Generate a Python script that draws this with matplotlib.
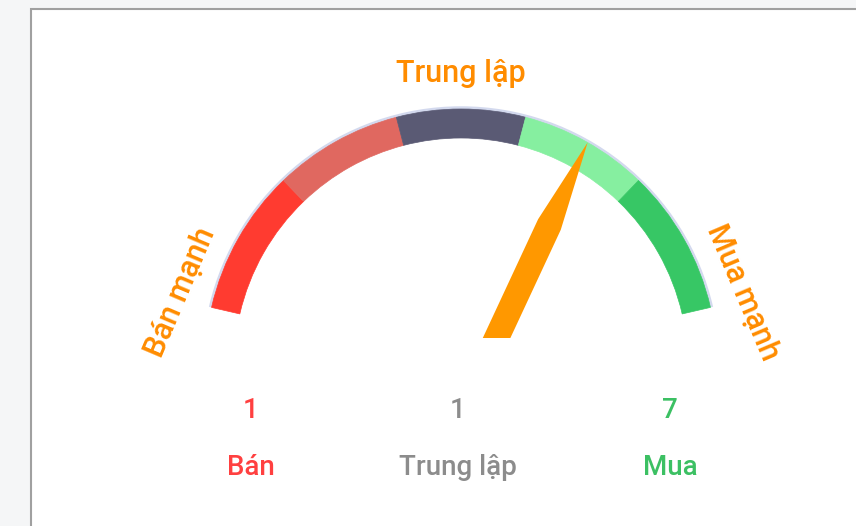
import numpy as np
import matplotlib
matplotlib.use("Agg")
import matplotlib.pyplot as plt
from matplotlib.patches import Wedge, Arc, Rectangle, Polygon

plt.rcParams['font.family'] = ['Roboto', 'DejaVu Sans']

# data
summary = "Trung lập"
end_labels = ["Bán mạnh", "Mua mạnh"]
count_labels = ["Bán", "Trung lập", "Mua"]
counts = [1, 1, 7]
count_colors = ["#ff4040", "#8c8c8c", "#3cc063"]
band_edges = [-1.0, -0.57, -0.19, 0.19, 0.57, 1.0]
band_colors = ["#ff3b30", "#e06860", "#5a5a74", "#86efa0", "#37c765"]
needle_value = 0.385

# gauge layout (pixels, y up)
W, H = 856, 526
cx, cy = 461, 161
r_out, r_in = 256, 227
span = 77.0  # degrees each side of vertical
orange = "#ff9800"


def to_deg(v):
    return v * span


fig = plt.figure(figsize=(W / 100, H / 100), dpi=100)
fig.patch.set_facecolor("#f5f6f7")
ax = fig.add_axes([0, 0, 1, 1])
ax.set_xlim(0, W)
ax.set_ylim(0, H)
ax.axis("off")

# card
ax.add_patch(Rectangle((31, -10), 900, H - 9 + 10, facecolor="white",
                       edgecolor="#a0a0a0", lw=1.5, zorder=0))

# faint rim
ax.add_patch(Arc((cx, cy), 2 * (r_out + 1), 2 * (r_out + 1), theta1=90 - span,
                 theta2=90 + span, color="#d3d9ee", lw=2.5, zorder=1))

for a, b, c in zip(band_edges[:-1], band_edges[1:], band_colors):
    ax.add_patch(Wedge((cx, cy), r_out, 90 - to_deg(b), 90 - to_deg(a),
                       width=r_out - r_in, facecolor=c, edgecolor=c, lw=0.5, zorder=2))

# needle
phi = np.radians(to_deg(needle_value))
tip = np.array([cx + r_out * np.sin(phi), cy + r_out * np.cos(phi)])
pivot = np.array([cx + 23, cy])
u = (tip - pivot) / np.linalg.norm(tip - pivot)
n = np.array([u[1], -u[0]])
half = 12.5
kink = pivot + u * 155
pts = [pivot - n * half, kink - n * half, tip, kink + n * half, pivot + n * half]
needle = Polygon(pts, closed=True, facecolor=orange, edgecolor="none", zorder=3)
ax.add_patch(needle)
clip = Rectangle((0, H - 338), W, H, transform=ax.transData)
needle.set_clip_path(clip)

# texts
ax.text(cx, H - 82, summary, color="#ff8c00", fontsize=22, fontweight="medium",
        ha="center", va="baseline")
ax.text(180, H - 292, end_labels[0], color="#ff8c00", fontsize=22, fontweight="medium",
        rotation=67, ha="center", va="center", rotation_mode="anchor")
ax.text(743, H - 292, end_labels[1], color="#ff8c00", fontsize=22, fontweight="medium",
        rotation=-67, ha="center", va="center", rotation_mode="anchor")

xs = [251, 458, 670]
for x, cnt, lab, col in zip(xs, counts, count_labels, count_colors):
    ax.text(x, H - 418, str(cnt), color=col, fontsize=20, fontweight="medium",
            ha="center", va="baseline")
    ax.text(x, H - 475, lab, color=col, fontsize=20, fontweight="medium",
            ha="center", va="baseline")

fig.savefig("out.png", dpi=100, facecolor=fig.get_facecolor())
